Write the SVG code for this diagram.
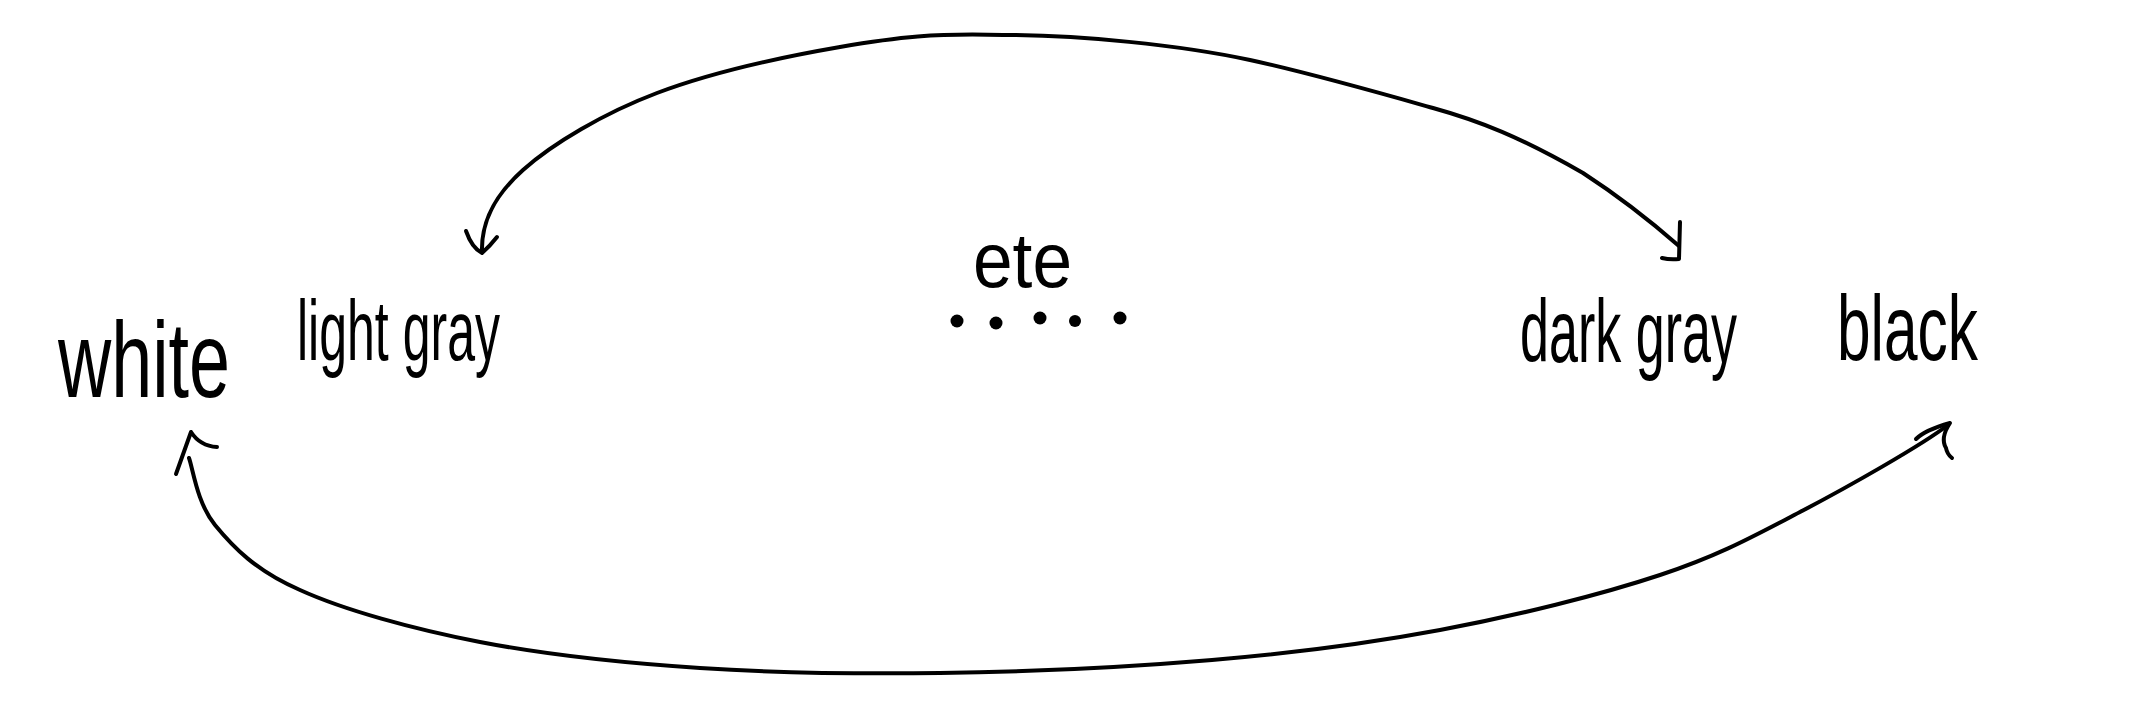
<svg xmlns="http://www.w3.org/2000/svg" width="2149" height="724" viewBox="0 0 2149 724">
<style>
.bg{fill:#ffffff}
.lbl{font-family:"Liberation Sans","DejaVu Sans",sans-serif;fill:#000;}
.ln{fill:none;stroke:#000;stroke-width:4;stroke-linecap:round;stroke-linejoin:round}
.dot{fill:#000}
</style>
<rect class="bg" x="0" y="0" width="2149" height="724"/>
<g id="node-white"><text class="lbl" transform="translate(58,397) scale(1,1.45)" font-size="74" textLength="172" lengthAdjust="spacingAndGlyphs">white</text></g>
<g id="node-light-gray"><text class="lbl" transform="translate(297,360) scale(1,1.7)" font-size="50" textLength="203" lengthAdjust="spacingAndGlyphs">light gray</text></g>
<g id="node-etc"><text class="lbl" transform="translate(973,287) scale(1,1.1)" font-size="71" textLength="99" lengthAdjust="spacingAndGlyphs">ete</text>
<g class="dot"><circle cx="957" cy="321" r="6.5"/><circle cx="996" cy="323" r="6.5"/><circle cx="1040" cy="318" r="6.5"/><circle cx="1075" cy="321" r="6"/><circle cx="1120" cy="318" r="6.5"/></g></g>
<g id="node-dark-gray"><text class="lbl" transform="translate(1520,362) scale(1,1.7)" font-size="52" textLength="217" lengthAdjust="spacingAndGlyphs">dark gray</text></g>
<g id="node-black"><text class="lbl" transform="translate(1837,360) scale(1,1.55)" font-size="60" textLength="141" lengthAdjust="spacingAndGlyphs">black</text></g>
<g id="connectors">
<path class="ln" d="M482,252 C481,222 494,196 523,170 C552,144 604,113 657,93 C710,73 782,57 840,47 C898,37 935,33 1003,35 C1080,35 1180,45 1250,60 C1310,73 1380,93 1433,108 C1480,121 1520,137 1583,173 C1620,197 1655,225 1679,246"/>
<path class="ln" d="M466,231 Q472,248 482,253 Q490,246 497,237"/>
<path class="ln" d="M1680,222 L1679,259 Q1670,260 1662,258"/>
<path class="ln" d="M189,458 C193,469 197,503 215,525 C233,547 256,571 300,590 C344,610 413,629 480,642 C547,655 623,663 700,668 C777,673 855,674 940,673 C1025,672 1129,667 1212,660 C1295,653 1365,644 1440,630 C1515,616 1600,595 1660,575 C1720,555 1752,537 1800,512 C1848,487 1922,445 1948,425"/>
<path class="ln" d="M176,474 L191,432 Q200,446 217,447"/>
<path class="ln" d="M1916,439 Q1925,430 1950,423 Q1940,438 1946,448 Q1947,454 1952,458"/>
</g>
</svg>
